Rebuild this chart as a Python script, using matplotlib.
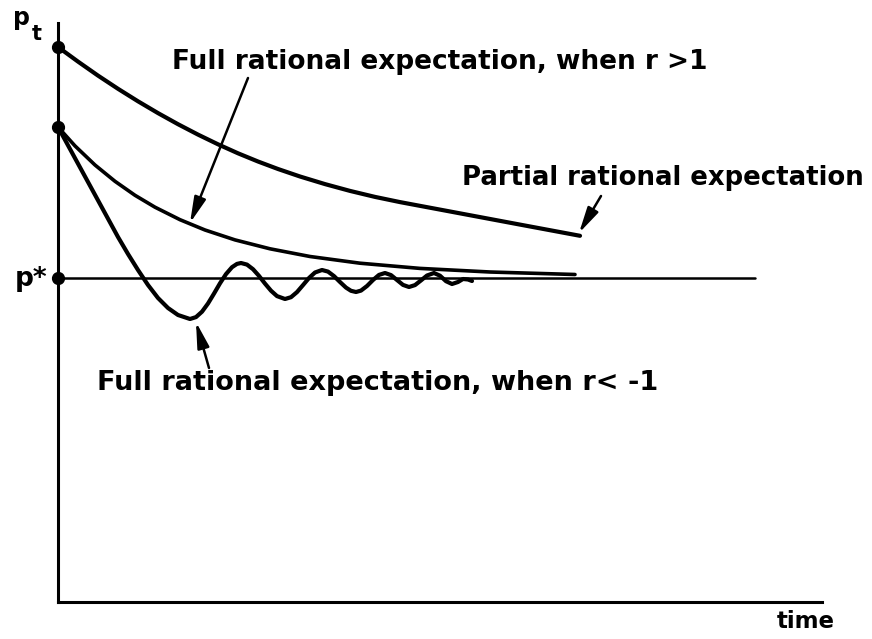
import matplotlib
matplotlib.use("Agg")
import matplotlib.pyplot as plt
from matplotlib.patches import FancyArrowPatch

# values (time, price); origin at the axes corner
partial_t = [0, 2, 4, 6, 8, 10, 12, 14, 16, 18, 20, 22, 24.2, 26.7, 29.2, 31.7, 34.2,
             38.2, 42.2, 46.2, 49.2, 52.2]
partial_p = [55.5, 54.04, 52.64, 51.32, 50.07, 48.89, 47.78, 46.74, 45.77, 44.87, 44.05,
             43.3, 42.55, 41.79, 41.11, 40.51, 39.99, 39.24, 38.49, 37.74, 37.18, 36.62]

full_pos_t = [0, 1.7, 3.7, 5.7, 7.7, 9.7, 12.2, 14.7, 17.7, 21.2, 25.2, 30.2, 36.2, 43.2, 51.7]
full_pos_p = [47.5, 45.61, 43.7, 42.07, 40.67, 39.48, 38.23, 37.2, 36.21, 35.32, 34.55,
              33.88, 33.36, 33.0, 32.75]

full_neg_t = [0, 1.2, 2.4, 3.6, 4.8, 6.0, 7.0, 8.0, 9.0, 10.0, 11.0, 12.0, 13.2, 13.8,
              14.4, 15.0, 15.6, 16.2, 16.8, 17.4, 17.9, 18.3, 18.9, 19.5, 20.1, 20.7,
              21.3, 21.9, 22.7, 23.3, 23.9, 24.5, 25.1, 25.7, 26.4, 27.0, 27.6, 28.2,
              28.8, 29.3, 29.8, 30.3, 30.9, 31.5, 32.1, 32.7, 33.3, 33.9, 34.5, 35.1,
              35.7, 36.3, 36.9, 37.6, 38.2, 38.8, 39.4, 40.0, 40.5, 41.0, 41.4]
full_neg_p = [47.5, 45.3, 43.1, 40.9, 38.7, 36.5, 34.8, 33.2, 31.7, 30.4, 29.4, 28.7, 28.3,
              28.49, 29.03, 29.85, 30.84, 31.87, 32.79, 33.48, 33.81, 33.9, 33.74, 33.28,
              32.61, 31.84, 31.13, 30.59, 30.3, 30.48, 30.99, 31.69, 32.4, 32.95, 33.2,
              33.04, 32.59, 32.0, 31.44, 31.12, 31.0, 31.14, 31.6, 32.2, 32.71, 32.9,
              32.69, 32.2, 31.71, 31.5, 31.69, 32.16, 32.65, 32.9, 32.63, 32.08, 31.8,
              32.0, 32.3, 32.25, 32.1]

p_star = 32.4
p_star_end = 69.7
start_prices = [55.5, 47.5, 32.4]

W, H = 872, 639
fig = plt.figure(figsize=(W / 100, H / 100), dpi=100)
ax = fig.add_axes([58 / W, 1 - 602 / H, (822 - 58) / W, (602 - 23) / H])
ax.set_xlim(0, 76.4)
ax.set_ylim(0, 57.9)
for s in ["top", "right"]:
    ax.spines[s].set_visible(False)
for s in ["left", "bottom"]:
    ax.spines[s].set_linewidth(2.2)
ax.set_xticks([])
ax.set_yticks([])

style = dict(color="black", solid_joinstyle="round", solid_capstyle="round")
ax.plot([0, p_star_end], [p_star, p_star], lw=1.8, **style)
ax.plot(partial_t, partial_p, lw=3.0, **style)
ax.plot(full_pos_t, full_pos_p, lw=2.6, **style)
ax.plot(full_neg_t, full_neg_p, lw=3.0, **style)
ax.plot([0] * len(start_prices), start_prices, "o", color="black", ms=8.5, clip_on=False)


def px(x, y):
    return x / W, 1 - y / H


font = dict(family="DejaVu Sans", weight="bold", color="black")
fig.text(*px(13, 25), "p", fontsize=17, va="baseline", **font)
fig.text(*px(32, 40), "t", fontsize=15, va="baseline", **font)
fig.text(*px(15, 286), "p*", fontsize=19, va="baseline", **font)
fig.text(*px(172, 62), "Full rational expectation, when r >1", fontsize=19, va="center", **font)
fig.text(*px(462, 178), "Partial rational expectation", fontsize=18.7, va="center", **font)
fig.text(*px(97, 383), "Full rational expectation, when r< -1", fontsize=19.5, va="center", **font)
fig.text(*px(777, 622), "time", fontsize=16.5, va="center", **font)

arrows = [((248, 78), (190, 223)), ((601, 196), (579, 233)), ((209, 368), (196, 322))]
for (x0, y0), (x1, y1) in arrows:
    fig.add_artist(FancyArrowPatch(
        px(x0, y0), px(x1, y1), transform=fig.transFigure,
        arrowstyle="-|>,head_length=1.3,head_width=0.3", mutation_scale=12,
        lw=1.8, color="black", shrinkA=0, shrinkB=0))

fig.savefig("out.png", dpi=100)
